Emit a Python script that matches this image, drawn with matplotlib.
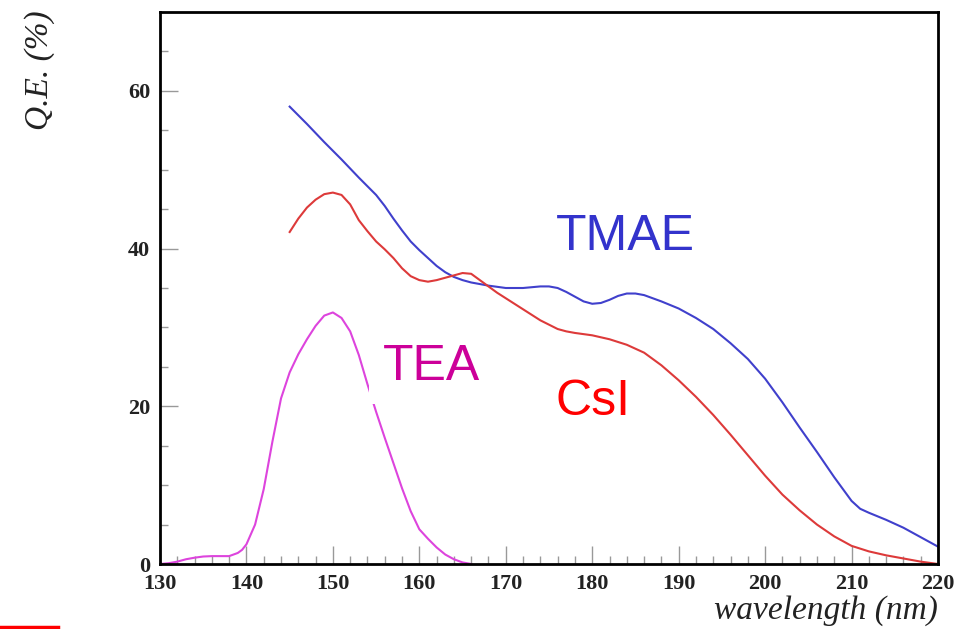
import matplotlib.pyplot as plt
from matplotlib.lines import Line2D

# quantum efficiency curves
tmae_wl = [145, 147, 149, 151, 153, 155, 156, 157, 158, 159, 160, 161, 162, 163, 164,
           165, 166, 167, 168, 170, 172, 174, 175, 176, 177, 178, 179, 180, 181, 182,
           183, 184, 185, 186, 187, 188, 190, 192, 194, 196, 198, 200, 202, 204, 206,
           208, 210, 211, 212, 214, 216, 218, 220]
tmae_qe = [58.0, 55.8, 53.5, 51.3, 49.0, 46.8, 45.4, 43.8, 42.3, 40.9, 39.8, 38.8, 37.8, 37.0, 36.4,
           36.0, 35.7, 35.5, 35.3, 35.0, 35.0, 35.2, 35.2, 35.0, 34.5, 33.9, 33.3, 33.0, 33.1, 33.5,
           34.0, 34.3, 34.3, 34.1, 33.7, 33.3, 32.4, 31.2, 29.8, 28.0, 26.0, 23.5, 20.5, 17.3, 14.2,
           11.0, 8.0, 7.0, 6.5, 5.6, 4.6, 3.4, 2.2]

csi_wl = [145, 146, 147, 148, 149, 150, 151, 152, 153, 154, 155, 156, 157, 158, 159,
          160, 161, 162, 163, 164, 165, 166, 167, 168, 169, 170, 172, 174, 176, 177,
          178, 180, 182, 184, 186, 188, 190, 192, 194, 196, 198, 200, 202, 204, 206,
          208, 210, 212, 214, 216, 218, 220]
csi_qe = [42.1, 43.8, 45.2, 46.2, 46.9, 47.1, 46.8, 45.6, 43.6, 42.2, 40.9, 39.9, 38.8, 37.5, 36.5,
          36.0, 35.8, 36.0, 36.3, 36.6, 36.9, 36.8, 36.0, 35.2, 34.4, 33.7, 32.3, 30.9, 29.8, 29.5,
          29.3, 29.0, 28.5, 27.8, 26.8, 25.2, 23.3, 21.2, 18.9, 16.4, 13.8, 11.2, 8.8, 6.8, 5.0,
          3.5, 2.3, 1.6, 1.1, 0.7, 0.3, 0.0]

tea_wl = [130, 131, 132, 133, 134, 135, 136, 137, 138, 139, 139.5, 140, 141, 142, 143,
          144, 145, 146, 147, 148, 149, 150, 151, 152, 153, 154, 155, 156, 157, 158,
          159, 160, 161, 162, 163, 164, 165, 166]
tea_qe = [0.0, 0.1, 0.3, 0.6, 0.8, 0.95, 1.0, 1.0, 1.0, 1.4, 1.8, 2.5, 5.0, 9.5, 15.5,
          21.0, 24.3, 26.6, 28.5, 30.2, 31.5, 31.9, 31.2, 29.5, 26.5, 22.8, 19.3, 16.0, 12.8, 9.6,
          6.7, 4.4, 3.2, 2.1, 1.2, 0.6, 0.2, 0.0]

fig = plt.figure(figsize=(9.61, 6.29), dpi=100)
ax = fig.add_axes([160/961, 65/629, 778/961, 552/629])

ax.plot(tmae_wl, tmae_qe, color="#4040cc", lw=1.5)
ax.plot(csi_wl, csi_qe, color="#dd3a3a", lw=1.5)
ax.plot(tea_wl, tea_qe, color="#dd44dd", lw=1.5)

ax.set_xlim(130, 220)
ax.set_ylim(0, 70)
ax.set_xticks(range(130, 221, 10))
ax.set_xticks(range(130, 221, 2), minor=True)
ax.set_yticks(range(0, 61, 20))
ax.set_yticks(range(0, 70, 5), minor=True)
ax.tick_params(which="both", direction="in", color="#999999", width=1,
               labelsize=16)
ax.tick_params(which="major", length=13, pad=7)
ax.tick_params(which="minor", length=6)
for lab in ax.get_xticklabels() + ax.get_yticklabels():
    lab.set_family("Liberation Serif")
    lab.set_fontweight("bold")
    lab.set_color("#222222")
for s in ax.spines.values():
    s.set_linewidth(2)

# labels on the curves
ax.text(183.8, 41.5, "TMAE", color="#3333cc", fontsize=36, family="Liberation Sans",
        ha="center", va="center")
ax.text(161.4, 25.0, "TEA", color="#cc0099", fontsize=36, family="Liberation Sans",
        ha="center", va="center",
        bbox=dict(facecolor="white", edgecolor="none", pad=10))
ax.text(180.1, 20.6, "CsI", color="#ff0000", fontsize=36, family="Liberation Sans",
        ha="center", va="center",
        bbox=dict(facecolor="white", edgecolor="none", pad=12))

fig.text(938/961, 3/629, "wavelength (nm)", family="Liberation Serif", style="italic",
         fontsize=24, ha="right", va="bottom", color="#222222")
fig.text(40/961, 1 - 70/629, "Q.E. (%)", family="Liberation Serif", style="italic",
         fontsize=24, rotation=90, ha="center", va="center", color="#222222")

fig.add_artist(Line2D([0, 58/961], [2/629, 2/629], color="red", lw=2.5))

fig.savefig("out.png", dpi=100)
